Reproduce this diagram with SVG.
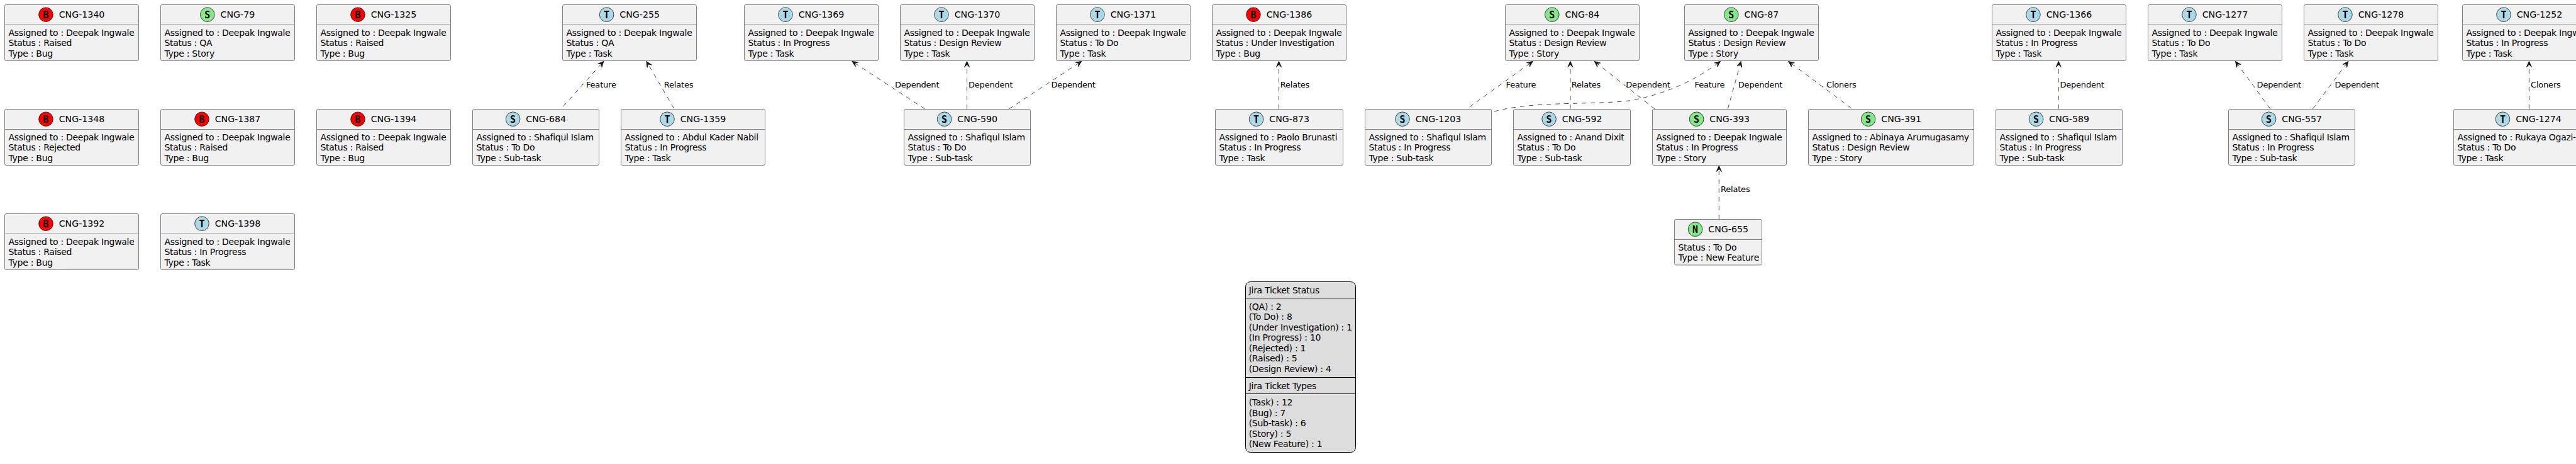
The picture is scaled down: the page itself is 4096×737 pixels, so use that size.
<svg xmlns="http://www.w3.org/2000/svg" width="4096" height="737" viewBox="0 0 4096 737">
<style>
text{font-family:"DejaVu Sans","Liberation Sans",sans-serif;font-size:14px;letter-spacing:-.28px;fill:#000}
.box{fill:#F1F1F1;stroke:#808080;stroke-width:1}
.div{stroke:#808080;stroke-width:1}
.t{font-size:14.2px;letter-spacing:0}
.k{font-family:"DejaVu Sans Mono",monospace;font-weight:bold;font-size:15px;letter-spacing:0;text-anchor:middle}
.c{stroke:#181818;stroke-width:.8}
.B{fill:#FF0000}.G{fill:#84E88A}.L{fill:#ADD8E6}
.e{fill:none;stroke:#181818;stroke-width:.8;stroke-dasharray:7 7;marker-end:url(#a)}
.leg{fill:#DDDDDD;stroke:#000;stroke-width:1}
.ln{stroke:#000;stroke-width:1}
.el{font-size:13px;letter-spacing:-.2px}
</style>
<defs>
<marker id="a" markerUnits="userSpaceOnUse" markerWidth="12" markerHeight="12" refX="10" refY="5" orient="auto" overflow="visible"><path d="M10,5 L1,1 L5,5 L1,9 Z" fill="#181818" stroke="#181818" stroke-width="1"/></marker>
</defs>
<g id="connectors">
<path class="e" d="M895.5,169 L959.8,97.5"/>
<path class="e" d="M1071.4,172 L1028,97.5"/>
<path class="e" d="M1470.5,173 L1355,97.5"/>
<path class="e" d="M1537.5,173 L1537.5,97.5"/>
<path class="e" d="M1604.5,173 L1719.6,97.5"/>
<path class="e" d="M2033.5,173 L2033.5,97.5"/>
<path class="e" d="M2336.6,170 L2437,97.5"/>
<path class="e" d="M2496.9,173 L2496.9,97.5"/>
<path class="e" d="M2631,173 L2535.3,97.5"/>
<path class="e" d="M2376,177 C2440,160 2530,167 2590,160 C2650,150 2700,125 2735.3,97.5"/>
<path class="e" d="M2747.3,173 L2768.3,97.5"/>
<path class="e" d="M2943.8,172 L2843.8,97.5"/>
<path class="e" d="M3273.2,173 L3273.2,97.5"/>
<path class="e" d="M3610,173 L3554.5,97.5"/>
<path class="e" d="M3677.4,173 L3733.8,97.5"/>
<path class="e" d="M4021.4,173 L4021.4,97.5"/>
<path class="e" d="M2733.3,348 L2733.3,263.5"/>
<text class="el" x="932" y="139">Feature</text>
<text class="el" x="1055.8" y="139">Relates</text>
<text class="el" x="1423" y="139">Dependent</text>
<text class="el" x="1540" y="139">Dependent</text>
<text class="el" x="1671.4" y="139">Dependent</text>
<text class="el" x="2035.7" y="139">Relates</text>
<text class="el" x="2394.6" y="139">Feature</text>
<text class="el" x="2498.7" y="139">Relates</text>
<text class="el" x="2585.3" y="139">Dependent</text>
<text class="el" x="2694.6" y="139">Feature</text>
<text class="el" x="2763.8" y="139">Dependent</text>
<text class="el" x="2904" y="139">Cloners</text>
<text class="el" x="3275.4" y="139">Dependent</text>
<text class="el" x="3588.6" y="139">Dependent</text>
<text class="el" x="3712.5" y="139">Dependent</text>
<text class="el" x="4024" y="139">Cloners</text>
<text class="el" x="2736" y="305">Relates</text>
</g>
<g id="CNG-1340" transform="translate(7.5,7.5)"><rect class="box" width="213" height="89" rx="2.5"/><line class="div" x1="0" x2="213" y1="32" y2="32"/><circle class="c B" cx="65.45" cy="15.7" r="11.3"/><text class="k" x="65.45" y="21">B</text><text class="t" x="86.15" y="20.7">CNG-1340</text><text x="6" y="49.4">Assigned to : Deepak Ingwale</text><text x="6" y="65.7">Status : Raised</text><text x="6" y="82.4">Type : Bug</text></g>
<g id="CNG-79" transform="translate(255.5,7.5)"><rect class="box" width="213" height="89" rx="2.5"/><line class="div" x1="0" x2="213" y1="32" y2="32"/><circle class="c G" cx="74.3" cy="15.7" r="11.3"/><text class="k" x="74.3" y="21">S</text><text class="t" x="95" y="20.7">CNG-79</text><text x="6" y="49.4">Assigned to : Deepak Ingwale</text><text x="6" y="65.7">Status : QA</text><text x="6" y="82.4">Type : Story</text></g>
<g id="CNG-1325" transform="translate(503.5,7.5)"><rect class="box" width="213" height="89" rx="2.5"/><line class="div" x1="0" x2="213" y1="32" y2="32"/><circle class="c B" cx="65.45" cy="15.7" r="11.3"/><text class="k" x="65.45" y="21">B</text><text class="t" x="86.15" y="20.7">CNG-1325</text><text x="6" y="49.4">Assigned to : Deepak Ingwale</text><text x="6" y="65.7">Status : Raised</text><text x="6" y="82.4">Type : Bug</text></g>
<g id="CNG-255" transform="translate(894.5,7.5)"><rect class="box" width="213" height="89" rx="2.5"/><line class="div" x1="0" x2="213" y1="32" y2="32"/><circle class="c L" cx="70.1" cy="15.7" r="11.3"/><text class="k" x="70.1" y="21">T</text><text class="t" x="90.8" y="20.7">CNG-255</text><text x="6" y="49.4">Assigned to : Deepak Ingwale</text><text x="6" y="65.7">Status : QA</text><text x="6" y="82.4">Type : Task</text></g>
<g id="CNG-1369" transform="translate(1183.5,7.5)"><rect class="box" width="213" height="89" rx="2.5"/><line class="div" x1="0" x2="213" y1="32" y2="32"/><circle class="c L" cx="65.45" cy="15.7" r="11.3"/><text class="k" x="65.45" y="21">T</text><text class="t" x="86.15" y="20.7">CNG-1369</text><text x="6" y="49.4">Assigned to : Deepak Ingwale</text><text x="6" y="65.7">Status : In Progress</text><text x="6" y="82.4">Type : Task</text></g>
<g id="CNG-1370" transform="translate(1431.5,7.5)"><rect class="box" width="213" height="89" rx="2.5"/><line class="div" x1="0" x2="213" y1="32" y2="32"/><circle class="c L" cx="65.45" cy="15.7" r="11.3"/><text class="k" x="65.45" y="21">T</text><text class="t" x="86.15" y="20.7">CNG-1370</text><text x="6" y="49.4">Assigned to : Deepak Ingwale</text><text x="6" y="65.7">Status : Design Review</text><text x="6" y="82.4">Type : Task</text></g>
<g id="CNG-1371" transform="translate(1679.5,7.5)"><rect class="box" width="213" height="89" rx="2.5"/><line class="div" x1="0" x2="213" y1="32" y2="32"/><circle class="c L" cx="65.45" cy="15.7" r="11.3"/><text class="k" x="65.45" y="21">T</text><text class="t" x="86.15" y="20.7">CNG-1371</text><text x="6" y="49.4">Assigned to : Deepak Ingwale</text><text x="6" y="65.7">Status : To Do</text><text x="6" y="82.4">Type : Task</text></g>
<g id="CNG-1386" transform="translate(1927.5,7.5)"><rect class="box" width="213" height="89" rx="2.5"/><line class="div" x1="0" x2="213" y1="32" y2="32"/><circle class="c B" cx="65.45" cy="15.7" r="11.3"/><text class="k" x="65.45" y="21">B</text><text class="t" x="86.15" y="20.7">CNG-1386</text><text x="6" y="49.4">Assigned to : Deepak Ingwale</text><text x="6" y="65.7">Status : Under Investigation</text><text x="6" y="82.4">Type : Bug</text></g>
<g id="CNG-84" transform="translate(2393.5,7.5)"><rect class="box" width="213" height="89" rx="2.5"/><line class="div" x1="0" x2="213" y1="32" y2="32"/><circle class="c G" cx="74.3" cy="15.7" r="11.3"/><text class="k" x="74.3" y="21">S</text><text class="t" x="95" y="20.7">CNG-84</text><text x="6" y="49.4">Assigned to : Deepak Ingwale</text><text x="6" y="65.7">Status : Design Review</text><text x="6" y="82.4">Type : Story</text></g>
<g id="CNG-87" transform="translate(2678.5,7.5)"><rect class="box" width="213" height="89" rx="2.5"/><line class="div" x1="0" x2="213" y1="32" y2="32"/><circle class="c G" cx="74.3" cy="15.7" r="11.3"/><text class="k" x="74.3" y="21">S</text><text class="t" x="95" y="20.7">CNG-87</text><text x="6" y="49.4">Assigned to : Deepak Ingwale</text><text x="6" y="65.7">Status : Design Review</text><text x="6" y="82.4">Type : Story</text></g>
<g id="CNG-1366" transform="translate(3167.5,7.5)"><rect class="box" width="213" height="89" rx="2.5"/><line class="div" x1="0" x2="213" y1="32" y2="32"/><circle class="c L" cx="65.45" cy="15.7" r="11.3"/><text class="k" x="65.45" y="21">T</text><text class="t" x="86.15" y="20.7">CNG-1366</text><text x="6" y="49.4">Assigned to : Deepak Ingwale</text><text x="6" y="65.7">Status : In Progress</text><text x="6" y="82.4">Type : Task</text></g>
<g id="CNG-1277" transform="translate(3415.5,7.5)"><rect class="box" width="213" height="89" rx="2.5"/><line class="div" x1="0" x2="213" y1="32" y2="32"/><circle class="c L" cx="65.45" cy="15.7" r="11.3"/><text class="k" x="65.45" y="21">T</text><text class="t" x="86.15" y="20.7">CNG-1277</text><text x="6" y="49.4">Assigned to : Deepak Ingwale</text><text x="6" y="65.7">Status : To Do</text><text x="6" y="82.4">Type : Task</text></g>
<g id="CNG-1278" transform="translate(3663.5,7.5)"><rect class="box" width="213" height="89" rx="2.5"/><line class="div" x1="0" x2="213" y1="32" y2="32"/><circle class="c L" cx="65.45" cy="15.7" r="11.3"/><text class="k" x="65.45" y="21">T</text><text class="t" x="86.15" y="20.7">CNG-1278</text><text x="6" y="49.4">Assigned to : Deepak Ingwale</text><text x="6" y="65.7">Status : To Do</text><text x="6" y="82.4">Type : Task</text></g>
<g id="CNG-1252" transform="translate(3915.5,7.5)"><rect class="box" width="213" height="89" rx="2.5"/><line class="div" x1="0" x2="213" y1="32" y2="32"/><circle class="c L" cx="65.45" cy="15.7" r="11.3"/><text class="k" x="65.45" y="21">T</text><text class="t" x="86.15" y="20.7">CNG-1252</text><text x="6" y="49.4">Assigned to : Deepak Ingwale</text><text x="6" y="65.7">Status : In Progress</text><text x="6" y="82.4">Type : Task</text></g>
<g id="CNG-1348" transform="translate(7.5,173.5)"><rect class="box" width="213" height="89" rx="2.5"/><line class="div" x1="0" x2="213" y1="32" y2="32"/><circle class="c B" cx="65.45" cy="15.7" r="11.3"/><text class="k" x="65.45" y="21">B</text><text class="t" x="86.15" y="20.7">CNG-1348</text><text x="6" y="49.4">Assigned to : Deepak Ingwale</text><text x="6" y="65.7">Status : Rejected</text><text x="6" y="82.4">Type : Bug</text></g>
<g id="CNG-1387" transform="translate(255.5,173.5)"><rect class="box" width="213" height="89" rx="2.5"/><line class="div" x1="0" x2="213" y1="32" y2="32"/><circle class="c B" cx="65.45" cy="15.7" r="11.3"/><text class="k" x="65.45" y="21">B</text><text class="t" x="86.15" y="20.7">CNG-1387</text><text x="6" y="49.4">Assigned to : Deepak Ingwale</text><text x="6" y="65.7">Status : Raised</text><text x="6" y="82.4">Type : Bug</text></g>
<g id="CNG-1394" transform="translate(503.5,173.5)"><rect class="box" width="213" height="89" rx="2.5"/><line class="div" x1="0" x2="213" y1="32" y2="32"/><circle class="c B" cx="65.45" cy="15.7" r="11.3"/><text class="k" x="65.45" y="21">B</text><text class="t" x="86.15" y="20.7">CNG-1394</text><text x="6" y="49.4">Assigned to : Deepak Ingwale</text><text x="6" y="65.7">Status : Raised</text><text x="6" y="82.4">Type : Bug</text></g>
<g id="CNG-684" transform="translate(751.5,173.5)"><rect class="box" width="201" height="89" rx="2.5"/><line class="div" x1="0" x2="201" y1="32" y2="32"/><circle class="c L" cx="64.1" cy="15.7" r="11.3"/><text class="k" x="64.1" y="21">S</text><text class="t" x="84.8" y="20.7">CNG-684</text><text x="6" y="49.4">Assigned to : Shafiqul Islam</text><text x="6" y="65.7">Status : To Do</text><text x="6" y="82.4">Type : Sub-task</text></g>
<g id="CNG-1359" transform="translate(987.5,173.5)"><rect class="box" width="229" height="89" rx="2.5"/><line class="div" x1="0" x2="229" y1="32" y2="32"/><circle class="c L" cx="73.45" cy="15.7" r="11.3"/><text class="k" x="73.45" y="21">T</text><text class="t" x="94.15" y="20.7">CNG-1359</text><text x="6" y="49.4">Assigned to : Abdul Kader Nabil</text><text x="6" y="65.7">Status : In Progress</text><text x="6" y="82.4">Type : Task</text></g>
<g id="CNG-590" transform="translate(1437.5,173.5)"><rect class="box" width="201" height="89" rx="2.5"/><line class="div" x1="0" x2="201" y1="32" y2="32"/><circle class="c L" cx="64.1" cy="15.7" r="11.3"/><text class="k" x="64.1" y="21">S</text><text class="t" x="84.8" y="20.7">CNG-590</text><text x="6" y="49.4">Assigned to : Shafiqul Islam</text><text x="6" y="65.7">Status : To Do</text><text x="6" y="82.4">Type : Sub-task</text></g>
<g id="CNG-873" transform="translate(1932.5,173.5)"><rect class="box" width="203" height="89" rx="2.5"/><line class="div" x1="0" x2="203" y1="32" y2="32"/><circle class="c L" cx="65.1" cy="15.7" r="11.3"/><text class="k" x="65.1" y="21">T</text><text class="t" x="85.8" y="20.7">CNG-873</text><text x="6" y="49.4">Assigned to : Paolo Brunasti</text><text x="6" y="65.7">Status : In Progress</text><text x="6" y="82.4">Type : Task</text></g>
<g id="CNG-1203" transform="translate(2170.5,173.5)"><rect class="box" width="201" height="89" rx="2.5"/><line class="div" x1="0" x2="201" y1="32" y2="32"/><circle class="c L" cx="59.45" cy="15.7" r="11.3"/><text class="k" x="59.45" y="21">S</text><text class="t" x="80.15" y="20.7">CNG-1203</text><text x="6" y="49.4">Assigned to : Shafiqul Islam</text><text x="6" y="65.7">Status : In Progress</text><text x="6" y="82.4">Type : Sub-task</text></g>
<g id="CNG-592" transform="translate(2406.5,173.5)"><rect class="box" width="186" height="89" rx="2.5"/><line class="div" x1="0" x2="186" y1="32" y2="32"/><circle class="c L" cx="56.6" cy="15.7" r="11.3"/><text class="k" x="56.6" y="21">S</text><text class="t" x="77.3" y="20.7">CNG-592</text><text x="6" y="49.4">Assigned to : Anand Dixit</text><text x="6" y="65.7">Status : To Do</text><text x="6" y="82.4">Type : Sub-task</text></g>
<g id="CNG-393" transform="translate(2627.5,173.5)"><rect class="box" width="213" height="89" rx="2.5"/><line class="div" x1="0" x2="213" y1="32" y2="32"/><circle class="c G" cx="70.1" cy="15.7" r="11.3"/><text class="k" x="70.1" y="21">S</text><text class="t" x="90.8" y="20.7">CNG-393</text><text x="6" y="49.4">Assigned to : Deepak Ingwale</text><text x="6" y="65.7">Status : In Progress</text><text x="6" y="82.4">Type : Story</text></g>
<g id="CNG-391" transform="translate(2875.5,173.5)"><rect class="box" width="263" height="89" rx="2.5"/><line class="div" x1="0" x2="263" y1="32" y2="32"/><circle class="c G" cx="95.1" cy="15.7" r="11.3"/><text class="k" x="95.1" y="21">S</text><text class="t" x="115.8" y="20.7">CNG-391</text><text x="6" y="49.4">Assigned to : Abinaya Arumugasamy</text><text x="6" y="65.7">Status : Design Review</text><text x="6" y="82.4">Type : Story</text></g>
<g id="CNG-589" transform="translate(3173.5,173.5)"><rect class="box" width="201" height="89" rx="2.5"/><line class="div" x1="0" x2="201" y1="32" y2="32"/><circle class="c L" cx="64.1" cy="15.7" r="11.3"/><text class="k" x="64.1" y="21">S</text><text class="t" x="84.8" y="20.7">CNG-589</text><text x="6" y="49.4">Assigned to : Shafiqul Islam</text><text x="6" y="65.7">Status : In Progress</text><text x="6" y="82.4">Type : Sub-task</text></g>
<g id="CNG-557" transform="translate(3543.5,173.5)"><rect class="box" width="201" height="89" rx="2.5"/><line class="div" x1="0" x2="201" y1="32" y2="32"/><circle class="c L" cx="64.1" cy="15.7" r="11.3"/><text class="k" x="64.1" y="21">S</text><text class="t" x="84.8" y="20.7">CNG-557</text><text x="6" y="49.4">Assigned to : Shafiqul Islam</text><text x="6" y="65.7">Status : In Progress</text><text x="6" y="82.4">Type : Sub-task</text></g>
<g id="CNG-1274" transform="translate(3901.5,173.5)"><rect class="box" width="238" height="89" rx="2.5"/><line class="div" x1="0" x2="238" y1="32" y2="32"/><circle class="c L" cx="77.95" cy="15.7" r="11.3"/><text class="k" x="77.95" y="21">T</text><text class="t" x="98.65" y="20.7">CNG-1274</text><text x="6" y="49.4">Assigned to : Rukaya Ogazi-</text><text x="6" y="65.7">Status : To Do</text><text x="6" y="82.4">Type : Task</text></g>
<g id="CNG-1392" transform="translate(7.5,339.5)"><rect class="box" width="213" height="89" rx="2.5"/><line class="div" x1="0" x2="213" y1="32" y2="32"/><circle class="c B" cx="65.45" cy="15.7" r="11.3"/><text class="k" x="65.45" y="21">B</text><text class="t" x="86.15" y="20.7">CNG-1392</text><text x="6" y="49.4">Assigned to : Deepak Ingwale</text><text x="6" y="65.7">Status : Raised</text><text x="6" y="82.4">Type : Bug</text></g>
<g id="CNG-1398" transform="translate(255.5,339.5)"><rect class="box" width="213" height="89" rx="2.5"/><line class="div" x1="0" x2="213" y1="32" y2="32"/><circle class="c L" cx="65.45" cy="15.7" r="11.3"/><text class="k" x="65.45" y="21">T</text><text class="t" x="86.15" y="20.7">CNG-1398</text><text x="6" y="49.4">Assigned to : Deepak Ingwale</text><text x="6" y="65.7">Status : In Progress</text><text x="6" y="82.4">Type : Task</text></g>
<g id="CNG-655" transform="translate(2662.5,348.5)"><rect class="box" width="139" height="72.5" rx="2.5"/><line class="div" x1="0" x2="139" y1="32" y2="32"/><circle class="c G" cx="33.1" cy="15.7" r="11.3"/><text class="k" x="33.1" y="21">N</text><text class="t" x="53.8" y="20.7">CNG-655</text><text x="6" y="49.4">Status : To Do</text><text x="6" y="65.7">Type : New Feature</text></g>
<g id="legend">
<rect class="leg" x="1980.5" y="447.5" width="175" height="271" rx="8"/>
<line class="ln" x1="1980.5" x2="2155.5" y1="473.5" y2="473.5"/>
<line class="ln" x1="1980.5" x2="2155.5" y1="599.5" y2="599.5"/>
<line class="ln" x1="1980.5" x2="2155.5" y1="625.5" y2="625.5"/>
<text x="1985.7" y="465.7">Jira Ticket Status</text>
<text x="1985.7" y="491.7">(QA) : 2</text>
<text x="1985.7" y="508.3">(To Do) : 8</text>
<text x="1985.7" y="524.8">(Under Investigation) : 1</text>
<text x="1985.7" y="541.3">(In Progress) : 10</text>
<text x="1985.7" y="557.9">(Rejected) : 1</text>
<text x="1985.7" y="574.4">(Raised) : 5</text>
<text x="1985.7" y="591">(Design Review) : 4</text>
<text x="1985.7" y="617.7">Jira Ticket Types</text>
<text x="1985.7" y="644">(Task) : 12</text>
<text x="1985.7" y="660.5">(Bug) : 7</text>
<text x="1985.7" y="677">(Sub-task) : 6</text>
<text x="1985.7" y="693.5">(Story) : 5</text>
<text x="1985.7" y="710">(New Feature) : 1</text>
</g>
</svg>
